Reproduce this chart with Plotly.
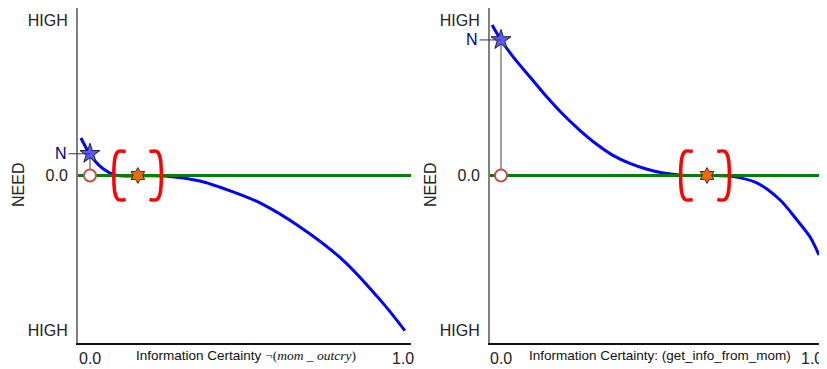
import plotly.graph_objects as go
from plotly.subplots import make_subplots

# need curves
left_x = [-0.029, -0.003, 0.016, 0.032, 0.048, 0.064, 0.089, 0.24, 0.351, 0.457, 0.543, 0.671, 0.808, 0.936, 1.006]
left_y = [0.242, 0.145, 0.094, 0.061, 0.035, 0.016, 0.0, -0.003, -0.036, -0.106, -0.177, -0.332, -0.545, -0.823, -1.0]
right_x = [-0.028, 0.0, 0.038, 0.091, 0.144, 0.194, 0.248, 0.301, 0.351, 0.404, 0.458, 0.508, 0.56, 0.62,
           0.718, 0.802, 0.875, 0.928, 0.969, 0.997]
right_y = [0.971, 0.874, 0.765, 0.635, 0.506, 0.395, 0.29, 0.2, 0.13, 0.078, 0.04, 0.016, 0.004, 0.0,
           -0.004, -0.048, -0.158, -0.287, -0.397, -0.513]

# current point (star) and estimated value with interval
left_now = (0.0, 0.14)
right_now = (0.0, 0.874)
left_est = 0.153
right_est = 0.646
left_interval = (0.08, 0.224)
right_interval = (0.567, 0.712)

left_title = "Information Certainty <span style='font-family:Liberation Serif'>¬(<i>mom _ outcry</i>)</span>"
right_title = "Information Certainty: (get_info_from_mom)"
ytick_vals = [-1, 0, 1]
ytick_text = ["HIGH", "0.0", "HIGH"]
xtick_vals = [0, 1]
xtick_text = ["0.0", "1.0"]

# the page body adds an 8px margin, so the figure is 8px smaller than the window
W, H = 819, 361

fig = make_subplots(rows=1, cols=2)

def bracket(lo, hi, h=0.155, w=0.034):
    xs = [lo + w, lo + 0.01, lo, lo, lo + 0.01, lo + w, None,
          hi - w, hi - 0.01, hi, hi, hi - 0.01, hi - w]
    ys = [h, h, h - 0.04, -h + 0.04, -h, -h, None,
          h, h, h - 0.04, -h + 0.04, -h, -h]
    return xs, ys

def add_panel(col, cx, cy, now, est, interval, xr):
    fig.add_trace(go.Scatter(x=cx, y=cy, mode="lines",
                             line=dict(color="#0000ff", width=3, shape="spline", smoothing=0.8)),
                  row=1, col=col)
    fig.add_trace(go.Scatter(x=list(xr), y=[0, 0], mode="lines", line=dict(color="#008000", width=3)),
                  row=1, col=col)
    bx, by = bracket(*interval)
    fig.add_trace(go.Scatter(x=bx, y=by, mode="lines", line=dict(color="#ff0000", width=3.5, shape="spline")),
                  row=1, col=col)
    fig.add_trace(go.Scatter(x=[now[0], now[0]], y=[now[1], 0], mode="lines",
                             line=dict(color="#808080", width=1.5)), row=1, col=col)
    fig.add_trace(go.Scatter(x=[now[0]], y=[0], mode="markers",
                             marker=dict(symbol="circle", size=12, color="white",
                                         line=dict(color="#c0504d", width=2))), row=1, col=col)
    fig.add_trace(go.Scatter(x=[now[0]], y=[now[1]], mode="markers",
                             marker=dict(symbol="star", size=15, color="#5a5aff",
                                         line=dict(color="#222222", width=1))), row=1, col=col)
    fig.add_trace(go.Scatter(x=[est], y=[0], mode="markers",
                             marker=dict(symbol="hexagram", size=12, color="#ff6600",
                                         line=dict(color="#333333", width=1))), row=1, col=col)

left_range = (-0.0383, 1.0256)
right_range = (-0.0345, 1.022)
add_panel(1, left_x, left_y, left_now, left_est, left_interval, left_range)
add_panel(2, right_x, right_y, right_now, right_est, right_interval, right_range)

font = "Liberation Sans, Arial"
doms = [[70 / W, 403 / W], [482 / W, 1.0]]
for i, (dom, rng) in enumerate(zip(doms, [left_range, right_range]), start=1):
    sfx = "" if i == 1 else str(i)
    fig.layout["xaxis" + sfx].update(domain=dom, range=list(rng), showline=True, linecolor="#111111",
                                     linewidth=1.5, showgrid=False, zeroline=False, automargin=False,
                                     showticklabels=False)
    fig.layout["yaxis" + sfx].update(domain=[1 - 335 / H, 1.0], range=[-1.08, 1.08], showline=True,
                                     linecolor="#808080", linewidth=2, showgrid=False, zeroline=False,
                                     automargin=False, tickvals=ytick_vals, ticktext=ytick_text,
                                     tickfont=dict(family=font, size=16, color="#222222"),
                                     ticklabelstandoff=5)

annos = []
for xr, now, title, rng in [("x", left_now, left_title, left_range), ("x2", right_now, right_title, right_range)]:
    yr = "y" if xr == "x" else "y2"
    annos.append(dict(x=now[0], y=now[1], xref=xr, yref=yr, text="N", showarrow=True, arrowhead=0,
                      arrowwidth=1, arrowcolor="#333366", ax=-29, ay=0,
                      font=dict(family=font, size=16, color="#000080")))
    annos.append(dict(x=0.5, y=1 - 347 / H, xref=xr, yref="paper", text=title, showarrow=False,
                      yanchor="middle", font=dict(family=font, size=13.5, color="#111111")))
    for v, t in zip(xtick_vals, xtick_text):
        last = xr == "x2" and v == xtick_vals[-1]
        annos.append(dict(x=rng[1] if last else v, y=1 - 350 / H, xref=xr, yref="paper", text=t,
                          showarrow=False, xanchor="right" if last else "center", yanchor="middle",
                          xshift=-2 if last else 0, font=dict(family=font, size=16, color="#222222")))
for px in [10, 422]:
    annos.append(dict(x=px / W, y=1 - 177 / H, xref="paper", yref="paper", text="NEED", textangle=-90,
                      xanchor="center", yanchor="middle", showarrow=False,
                      font=dict(family=font, size=16, color="#222222")))

fig.update_layout(width=W, height=H, margin=dict(l=0, r=0, t=0, b=0), showlegend=False,
                  plot_bgcolor="white", paper_bgcolor="white", annotations=annos)
fig.write_html("out.html")
